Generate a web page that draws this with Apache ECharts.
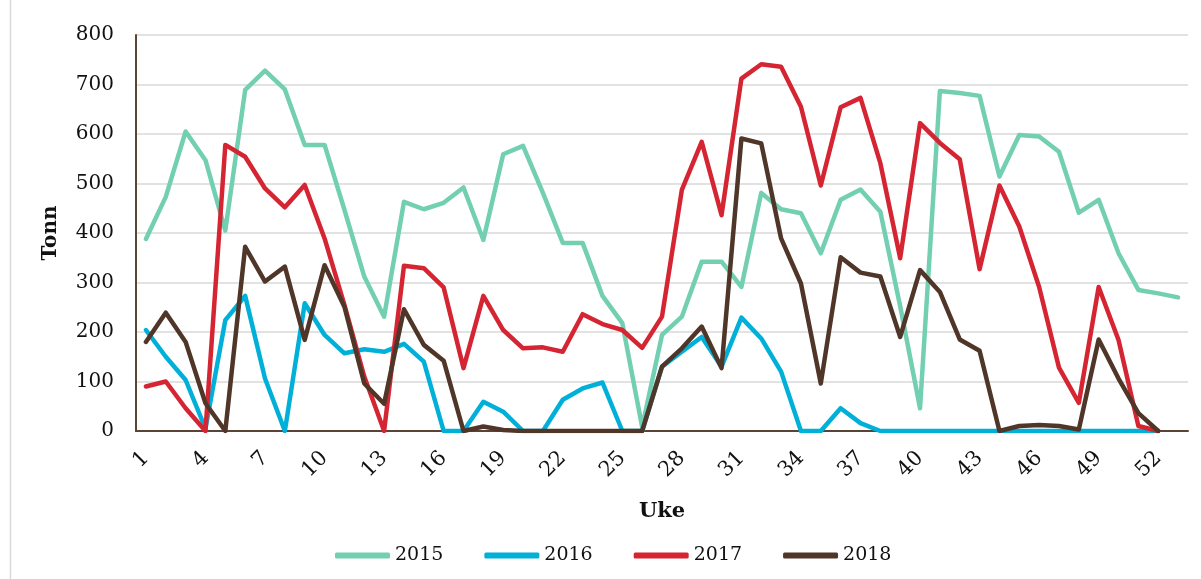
<!DOCTYPE html>
<html>
<head>
<meta charset="utf-8">
<script src="https://cdn.jsdelivr.net/npm/echarts@6/dist/echarts.min.js"></script>
<style>
html,body{margin:0;padding:0;background:#fff;}
#chart{width:1201px;height:579px;}
</style>
</head>
<body>
<div id="chart"></div>
<script>
var weeks = [];
for (var i = 1; i <= 53; i++) weeks.push(String(i));

var seriesNames = ['2015', '2016', '2017', '2018'];

var s2015 = [388, 473, 605, 547, 405, 689, 728, 690, 578, 578, 447, 312, 231, 463, 448, 461, 492, 386, 559, 576, 481, 380, 380, 273, 218, 8, 194, 231, 342, 342, 291, 481, 448, 440, 359, 467, 488, 443, 252, 46, 687, 683, 677, 514, 598, 595, 564, 441, 467, 359, 285, 278, 270];
var s2016 = [204, 150, 103, 5, 224, 273, 106, 0, 258, 194, 157, 165, 160, 176, 140, 0, 0, 59, 39, 0, 0, 63, 86, 98, 0, 0, 130, 160, 190, 130, 229, 187, 120, 0, 0, 46, 16, 0, 0, 0, 0, 0, 0, 0, 0, 0, 0, 0, 0, 0, 0, 0, null];
var s2017 = [90, 100, 46, 0, 578, 554, 490, 452, 497, 389, 255, 110, 0, 334, 329, 290, 127, 273, 204, 167, 169, 160, 236, 216, 204, 168, 231, 487, 584, 436, 712, 741, 736, 655, 496, 654, 673, 541, 349, 622, 582, 549, 327, 496, 413, 291, 128, 57, 291, 184, 10, 0, null];
var s2018 = [180, 239, 180, 56, 0, 372, 302, 332, 184, 335, 251, 96, 55, 246, 174, 142, 0, 9, 2, 0, 0, 0, 0, 0, 0, 0, 130, 167, 211, 127, 591, 581, 389, 298, 96, 351, 320, 312, 190, 325, 281, 185, 162, 0, 10, 12, 10, 3, 185, 106, 36, 0, null];

var colors = ['#72cfb1', '#00b0d8', '#d52532', '#4f3628'];
var dataList = [s2015, s2016, s2017, s2018];
var font = "'DejaVu Serif', serif";

var chart = echarts.init(document.getElementById('chart'));
chart.setOption({
  animation: false,
  backgroundColor: '#ffffff',
  color: colors,
  graphic: [{
    type: 'line',
    shape: {x1: 10.5, y1: 0, x2: 10.5, y2: 579},
    style: {stroke: '#d9d9d9', lineWidth: 1.5}
  }],
  grid: {left: 136, right: 13, top: 35, bottom: 148, containLabel: false},
  legend: {
    left: 330,
    top: 541,
    icon: 'roundRect',
    itemWidth: 55,
    itemHeight: 6,
    itemGap: 41,
    textStyle: {fontFamily: font, fontSize: 19, color: '#111'},
    data: seriesNames
  },
  xAxis: {
    type: 'category',
    data: weeks,
    boundaryGap: true,
    name: 'Uke',
    nameLocation: 'middle',
    nameGap: 70,
    nameTextStyle: {fontFamily: font, fontSize: 21, fontWeight: 'bold', color: '#111'},
    axisLine: {show: true, lineStyle: {color: '#5a4436', width: 2}},
    axisTick: {show: false},
    axisLabel: {
      interval: 2,
      rotate: 45,
      margin: 24,
      fontFamily: font,
      fontSize: 21,
      color: '#111'
    },
    splitLine: {show: false}
  },
  yAxis: {
    type: 'value',
    min: 0,
    max: 800,
    interval: 100,
    name: 'Tonn',
    nameLocation: 'middle',
    nameGap: 75,
    nameRotate: 90,
    nameTextStyle: {fontFamily: font, fontSize: 20, fontWeight: 'bold', color: '#111'},
    axisLine: {show: true, lineStyle: {color: '#5a4436', width: 2}},
    axisTick: {show: false},
    axisLabel: {margin: 22, fontFamily: font, fontSize: 20, color: '#111'},
    splitLine: {show: true, lineStyle: {color: '#d9d9d9', width: 1.5}}
  },
  series: seriesNames.map(function (n, i) {
    return {
      name: n,
      type: 'line',
      data: dataList[i],
      symbol: 'none',
      showSymbol: false,
      lineStyle: {width: 4.5, color: colors[i], cap: 'round', join: 'round'},
      itemStyle: {color: colors[i]}
    };
  })
});
</script>
</body>
</html>
